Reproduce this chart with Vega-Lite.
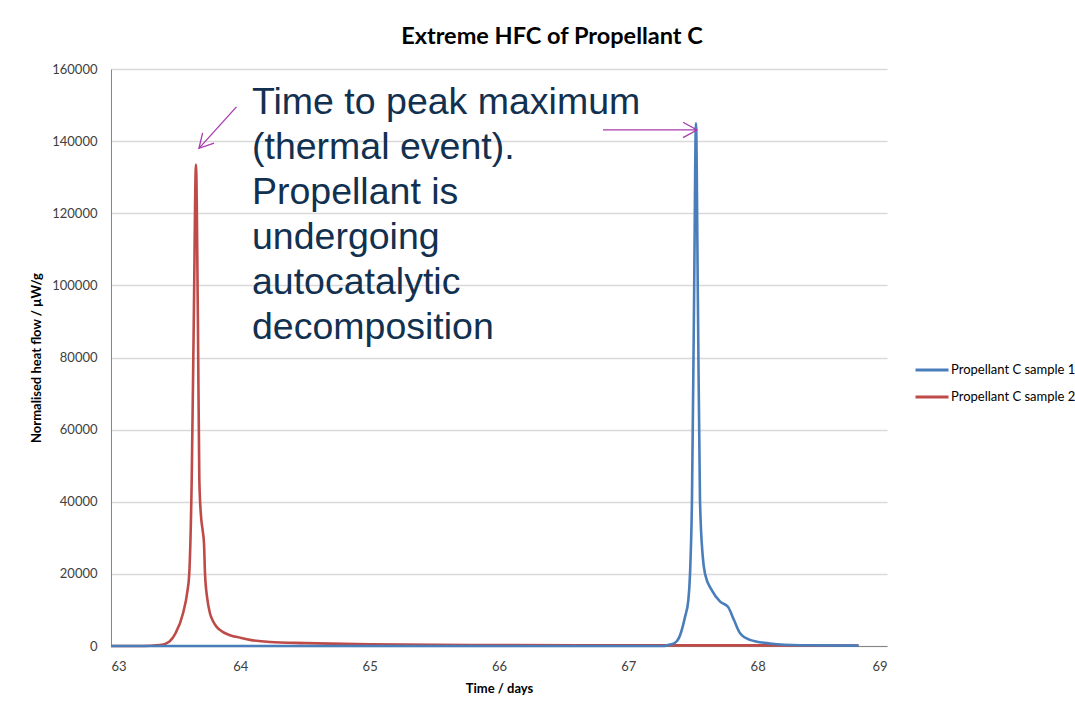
{
  "$schema": "https://vega.github.io/schema/vega-lite/v6.json",
  "width": 776,
  "height": 577,
  "autosize": {"type": "none"},
  "padding": {"left": 111, "top": 69, "right": 188, "bottom": 65},
  "background": "white",
  "title": {
    "text": "Extreme HFC of Propellant C",
    "anchor": "middle",
    "dx": 53,
    "offset": 15,
    "font": "Lato",
    "fontSize": 23.5,
    "fontWeight": "bold",
    "color": "#000000"
  },
  "config": {
    "view": {"stroke": null},
    "font": "Lato"
  },
  "datasets": {
    "series": [
      {"series": "Propellant C sample 2", "day": 63.0, "value": 0},
      {"series": "Propellant C sample 2", "day": 63.2, "value": 20},
      {"series": "Propellant C sample 2", "day": 63.3, "value": 80},
      {"series": "Propellant C sample 2", "day": 63.38, "value": 250},
      {"series": "Propellant C sample 2", "day": 63.45, "value": 1200},
      {"series": "Propellant C sample 2", "day": 63.5, "value": 3600},
      {"series": "Propellant C sample 2", "day": 63.557, "value": 9100},
      {"series": "Propellant C sample 2", "day": 63.59, "value": 15000},
      {"series": "Propellant C sample 2", "day": 63.605, "value": 20000},
      {"series": "Propellant C sample 2", "day": 63.624, "value": 46000},
      {"series": "Propellant C sample 2", "day": 63.64, "value": 90000},
      {"series": "Propellant C sample 2", "day": 63.657, "value": 133500},
      {"series": "Propellant C sample 2", "day": 63.672, "value": 90000},
      {"series": "Propellant C sample 2", "day": 63.683, "value": 46000},
      {"series": "Propellant C sample 2", "day": 63.696, "value": 36000},
      {"series": "Propellant C sample 2", "day": 63.709, "value": 32000},
      {"series": "Propellant C sample 2", "day": 63.719, "value": 28500},
      {"series": "Propellant C sample 2", "day": 63.727, "value": 20000},
      {"series": "Propellant C sample 2", "day": 63.745, "value": 13000},
      {"series": "Propellant C sample 2", "day": 63.765, "value": 9100},
      {"series": "Propellant C sample 2", "day": 63.79, "value": 6800},
      {"series": "Propellant C sample 2", "day": 63.817, "value": 5300},
      {"series": "Propellant C sample 2", "day": 63.86, "value": 4000},
      {"series": "Propellant C sample 2", "day": 63.92, "value": 3000},
      {"series": "Propellant C sample 2", "day": 64.0, "value": 2300},
      {"series": "Propellant C sample 2", "day": 64.075, "value": 1700},
      {"series": "Propellant C sample 2", "day": 64.23, "value": 1100},
      {"series": "Propellant C sample 2", "day": 64.5, "value": 800},
      {"series": "Propellant C sample 2", "day": 65.0, "value": 450},
      {"series": "Propellant C sample 2", "day": 65.5, "value": 320},
      {"series": "Propellant C sample 2", "day": 66.0, "value": 250},
      {"series": "Propellant C sample 2", "day": 67.0, "value": 200},
      {"series": "Propellant C sample 2", "day": 68.0, "value": 170},
      {"series": "Propellant C sample 2", "day": 68.78, "value": 150},
      {"series": "Propellant C sample 1", "day": 63.0, "value": 0},
      {"series": "Propellant C sample 1", "day": 65.0, "value": 0},
      {"series": "Propellant C sample 1", "day": 67.28, "value": 0},
      {"series": "Propellant C sample 1", "day": 67.32, "value": 400},
      {"series": "Propellant C sample 1", "day": 67.361, "value": 900},
      {"series": "Propellant C sample 1", "day": 67.4, "value": 3000},
      {"series": "Propellant C sample 1", "day": 67.438, "value": 8000},
      {"series": "Propellant C sample 1", "day": 67.464, "value": 12750},
      {"series": "Propellant C sample 1", "day": 67.477, "value": 20000},
      {"series": "Propellant C sample 1", "day": 67.492, "value": 40500},
      {"series": "Propellant C sample 1", "day": 67.508, "value": 95000},
      {"series": "Propellant C sample 1", "day": 67.523, "value": 145000},
      {"series": "Propellant C sample 1", "day": 67.538, "value": 95000},
      {"series": "Propellant C sample 1", "day": 67.554, "value": 40500},
      {"series": "Propellant C sample 1", "day": 67.575, "value": 25000},
      {"series": "Propellant C sample 1", "day": 67.593, "value": 20000},
      {"series": "Propellant C sample 1", "day": 67.645, "value": 15500},
      {"series": "Propellant C sample 1", "day": 67.71, "value": 12300},
      {"series": "Propellant C sample 1", "day": 67.77, "value": 10900},
      {"series": "Propellant C sample 1", "day": 67.817, "value": 7200},
      {"series": "Propellant C sample 1", "day": 67.863, "value": 3600},
      {"series": "Propellant C sample 1", "day": 67.94, "value": 1700},
      {"series": "Propellant C sample 1", "day": 68.095, "value": 700},
      {"series": "Propellant C sample 1", "day": 68.33, "value": 200},
      {"series": "Propellant C sample 1", "day": 68.78, "value": 100}
    ],
    "arrows": [
      {"arrow": "left", "x1": 63.97, "y1": 149500, "x2": 63.68, "y2": 138000, "angle": 132},
      {"arrow": "right", "x1": 66.804, "y1": 143100, "x2": 67.531, "y2": 143100, "angle": 0}
    ],
    "note": [
      {"day": 64.09, "value": 147500, "text": "Time to peak maximum\n(thermal event).\nPropellant is\nundergoing\nautocatalytic\ndecomposition"}
    ]
  },
  "layer": [
    {
      "data": {"name": "series"},
      "mark": {"type": "line", "interpolate": "monotone", "strokeWidth": 2.6},
      "encoding": {
        "x": {
          "field": "day", "type": "quantitative",
          "scale": {"domain": [63, 69], "nice": false, "zero": false},
          "axis": {
            "title": "Time / days",
            "values": [63, 64, 65, 66, 67, 68, 69],
            "format": "d",
            "grid": false,
            "ticks": false,
            "domainColor": "#868686",
            "domainWidth": 1,
            "labelFont": "Lato",
            "labelFontSize": 13,
            "labelColor": "#404040",
            "labelPadding": 14,
            "titleFont": "Lato",
            "titleFontSize": 13,
            "titleFontWeight": "bold",
            "titleColor": "#000000",
            "titlePadding": 9
          }
        },
        "y": {
          "field": "value", "type": "quantitative",
          "scale": {"domain": [0, 160000], "nice": false},
          "axis": {
            "title": "Normalised heat flow / µW/g",
            "values": [0, 20000, 40000, 60000, 80000, 100000, 120000, 140000, 160000],
            "format": "d",
            "grid": true,
            "gridColor": "#d9d9d9",
            "gridWidth": 1.3,
            "ticks": false,
            "domainColor": "#868686",
            "domainWidth": 1,
            "labelFont": "Lato",
            "labelFontSize": 13,
            "labelColor": "#404040",
            "labelPadding": 14,
            "titleFont": "Lato",
            "titleFontSize": 13,
            "titleFontWeight": "bold",
            "titleColor": "#000000",
            "titlePadding": 8
          }
        },
        "color": {
          "field": "series", "type": "nominal",
          "scale": {
            "domain": ["Propellant C sample 1", "Propellant C sample 2"],
            "range": ["#4A7EBB", "#BE4B48"]
          },
          "legend": {
            "title": null,
            "orient": "none",
            "legendX": 803,
            "legendY": 283,
            "symbolType": "stroke",
            "symbolSize": 1089,
            "symbolStrokeWidth": 3,
            "labelFont": "Lato",
            "labelFontSize": 13,
            "labelColor": "#000000",
            "labelOffset": 1,
            "rowPadding": 2,
            "padding": 0,
            "labelLimit": 300
          }
        }
      }
    },
    {
      "data": {"name": "note"},
      "mark": {
        "type": "text",
        "align": "left",
        "baseline": "alphabetic",
        "font": "Liberation Sans",
        "fontSize": 37.5,
        "lineHeight": 45,
        "lineBreak": "\n",
        "color": "#12304f"
      },
      "encoding": {
        "x": {"field": "day", "type": "quantitative"},
        "y": {"field": "value", "type": "quantitative"},
        "text": {"field": "text"}
      }
    },
    {
      "data": {"name": "arrows"},
      "mark": {"type": "rule", "color": "#a83aaf", "strokeWidth": 1.3},
      "encoding": {
        "x": {"field": "x1", "type": "quantitative"},
        "y": {"field": "y1", "type": "quantitative"},
        "x2": {"field": "x2"},
        "y2": {"field": "y2"}
      }
    },
    {
      "data": {"name": "arrows"},
      "mark": {
        "type": "point",
        "shape": "M-1,-0.55L0,0L-1,0.55",
        "filled": false,
        "size": 784,
        "stroke": "#a83aaf",
        "strokeWidth": 1.3,
        "opacity": 1
      },
      "encoding": {
        "x": {"field": "x2", "type": "quantitative"},
        "y": {"field": "y2", "type": "quantitative"},
        "angle": {"field": "angle", "type": "quantitative", "scale": null}
      }
    }
  ]
}
